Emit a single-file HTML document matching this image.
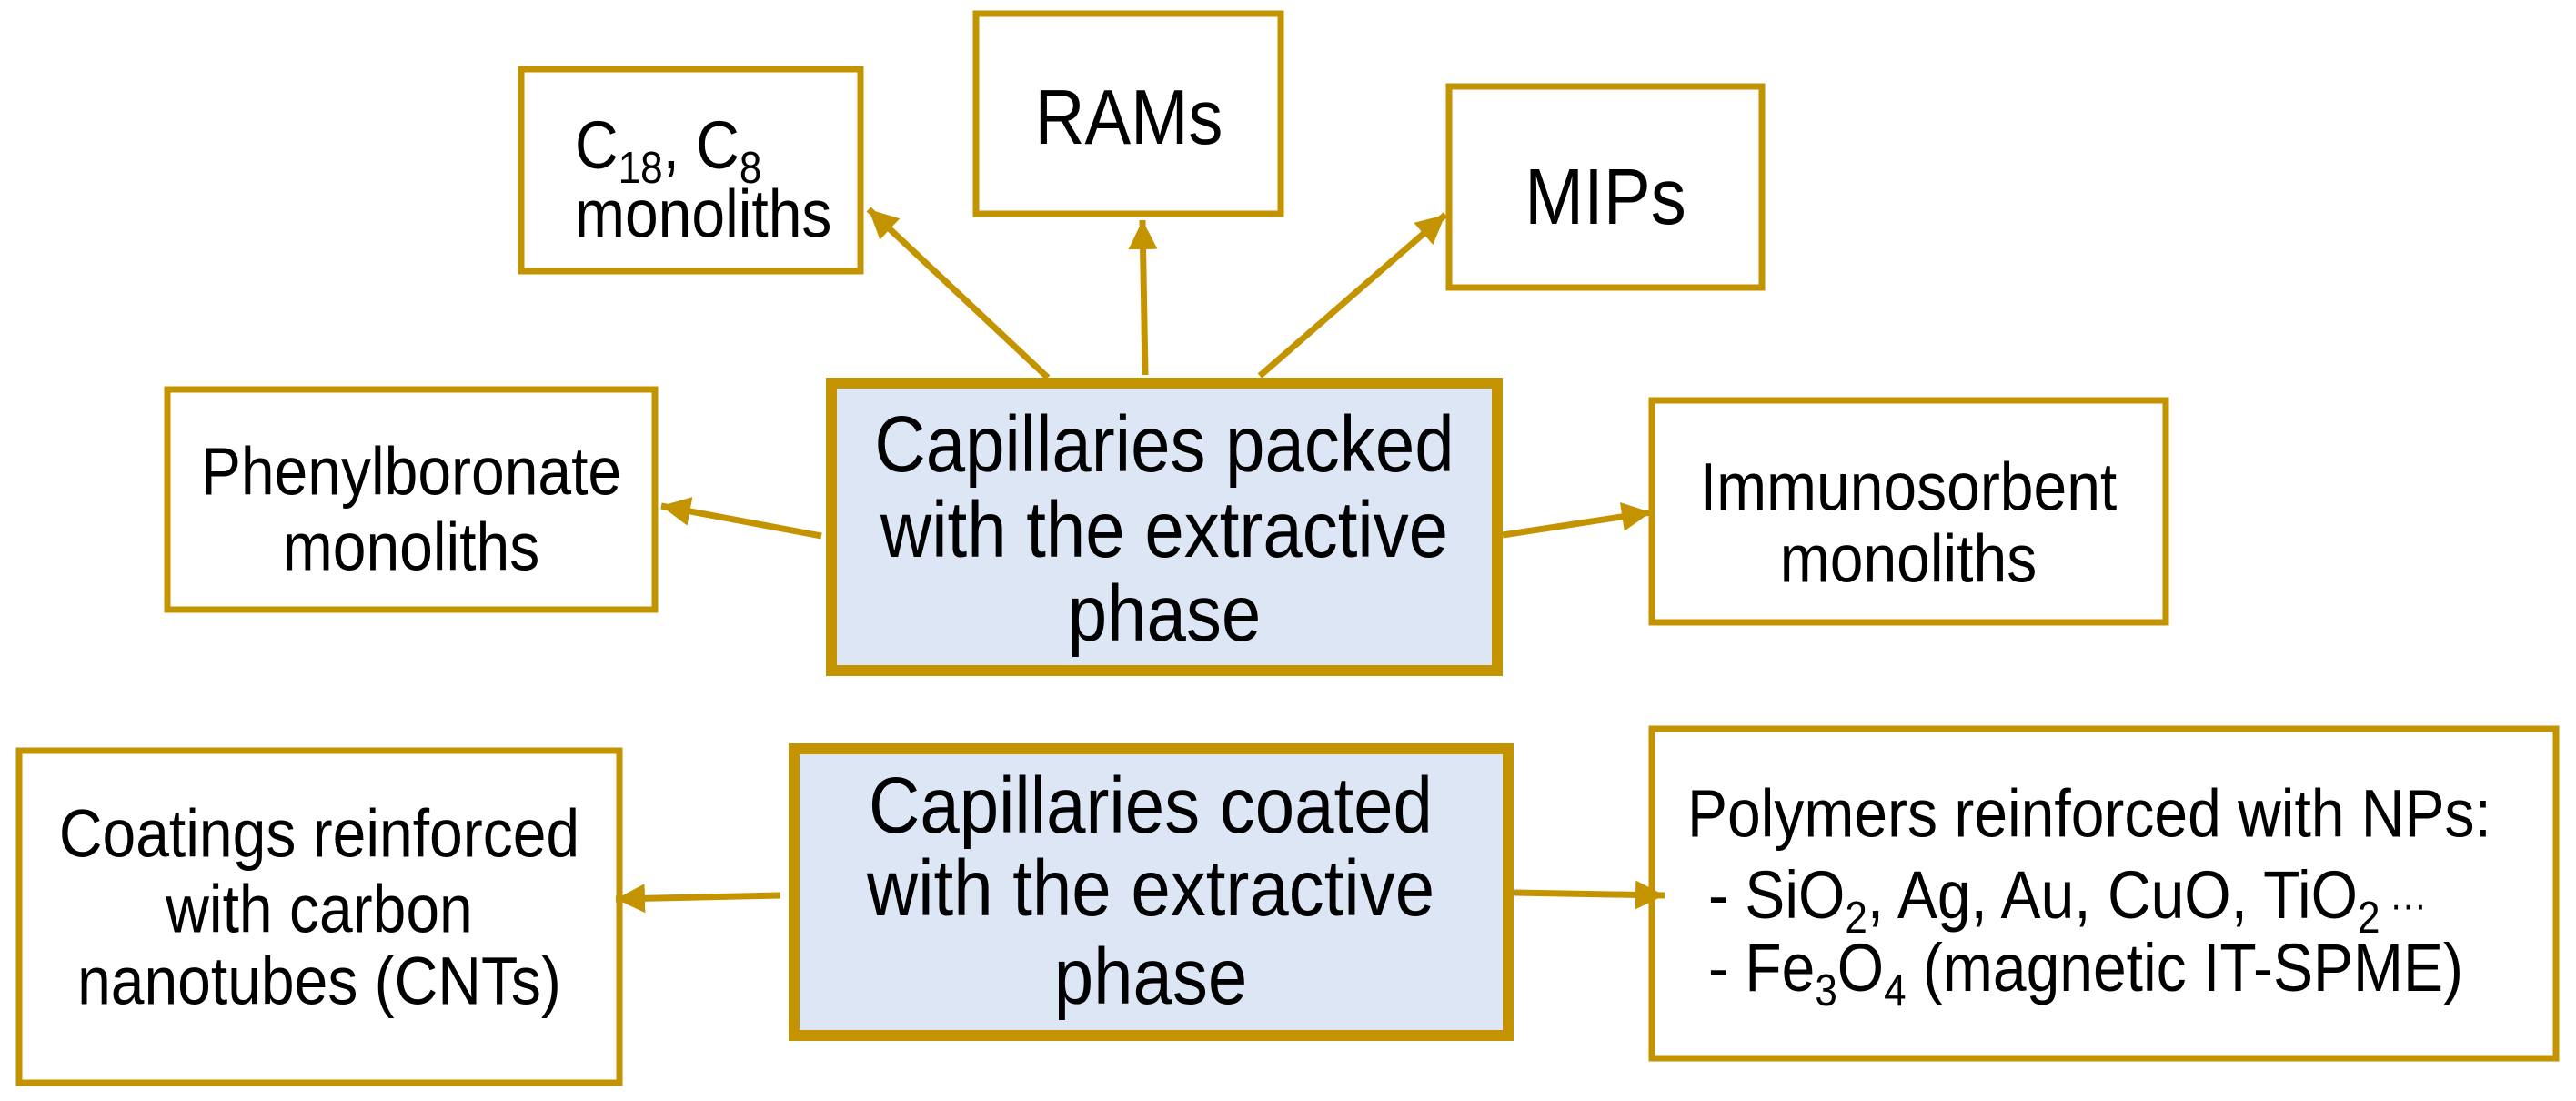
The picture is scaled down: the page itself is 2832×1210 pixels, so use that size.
<!DOCTYPE html>
<html><head><meta charset="utf-8"><style>
html,body{margin:0;padding:0;background:#fff;}
svg{display:block;}
text{font-family:"Liberation Sans",Arial,sans-serif;fill:#000;transform-box:fill-box;transform-origin:center;transform:scaleY(1.12);}
</style></head><body>
<svg width="2832" height="1210" viewBox="0 0 2832 1210" xmlns="http://www.w3.org/2000/svg">
<defs>
<marker id="a" markerUnits="userSpaceOnUse" markerWidth="40" markerHeight="40" refX="32" refY="16" orient="auto">
<path d="M0,0 L32,16 L0,32 Z" fill="#C39400"/>
</marker>
</defs>
<g fill="#fff" stroke="#C39400" stroke-width="7">
<rect x="573" y="76" width="373" height="222"/>
<rect x="1073" y="15" width="335" height="220"/>
<rect x="1593" y="95" width="344" height="221"/>
<rect x="184" y="428" width="536" height="242"/>
<rect x="1816" y="440" width="565" height="244"/>
<rect x="21" y="825" width="660" height="365"/>
<rect x="1816" y="801" width="994" height="362"/>
</g>
<g fill="#DCE6F5" stroke="#C39400" stroke-width="12">
<rect x="914" y="421" width="732" height="316"/>
<rect x="873" y="823" width="785" height="315"/>
</g>
<g stroke="#C39400" stroke-width="7" fill="none" marker-end="url(#a)">
<line x1="1152" y1="415" x2="955" y2="230"/>
<line x1="1259" y1="412" x2="1256" y2="242"/>
<line x1="1385" y1="413" x2="1589" y2="236"/>
<line x1="903" y1="589" x2="727" y2="556"/>
<line x1="1652" y1="588" x2="1815" y2="563"/>
<line x1="858" y1="984" x2="677" y2="988"/>
<line x1="1665" y1="981" x2="1830" y2="984"/>
</g>
<g font-size="66">
<text x="632" y="183">C<tspan font-size="44" dy="14">18</tspan><tspan dy="-14">, C</tspan><tspan font-size="44" dy="14">8</tspan></text>
<text x="632" y="258">monoliths</text>
<text x="452" y="541" text-anchor="middle">Phenylboronate</text>
<text x="452" y="624" text-anchor="middle">monoliths</text>
<text x="2098" y="558" text-anchor="middle">Immunosorbent</text>
<text x="2098" y="637" text-anchor="middle">monoliths</text>
<text x="351" y="939" text-anchor="middle">Coatings reinforced</text>
<text x="351" y="1022" text-anchor="middle">with carbon</text>
<text x="351" y="1101" text-anchor="middle">nanotubes (CNTs)</text>
<text x="1855" y="917">Polymers reinforced with NPs:</text>
<text x="1878" y="1007">- SiO<tspan font-size="44" dy="14">2</tspan><tspan dy="-14">, Ag, Au, CuO, TiO</tspan><tspan font-size="44" dy="14">2</tspan><tspan dy="-14" font-size="40"> ···</tspan></text>
<text x="1878" y="1087">- Fe<tspan font-size="44" dy="14">3</tspan><tspan dy="-14">O</tspan><tspan font-size="44" dy="14">4</tspan><tspan dy="-14"> (magnetic IT-SPME)</tspan></text>
</g>
<text x="1241" y="155" font-size="76" text-anchor="middle">RAMs</text>
<text x="1765" y="243" font-size="78" text-anchor="middle">MIPs</text>
<g font-size="78" text-anchor="middle">
<text x="1280" y="515">Capillaries packed</text>
<text x="1280" y="609">with the extractive</text>
<text x="1280" y="701">phase</text>
<text x="1265" y="912">Capillaries coated</text>
<text x="1265" y="1003">with the extractive</text>
<text x="1265" y="1100">phase</text>
</g>
</svg>
</body></html>
